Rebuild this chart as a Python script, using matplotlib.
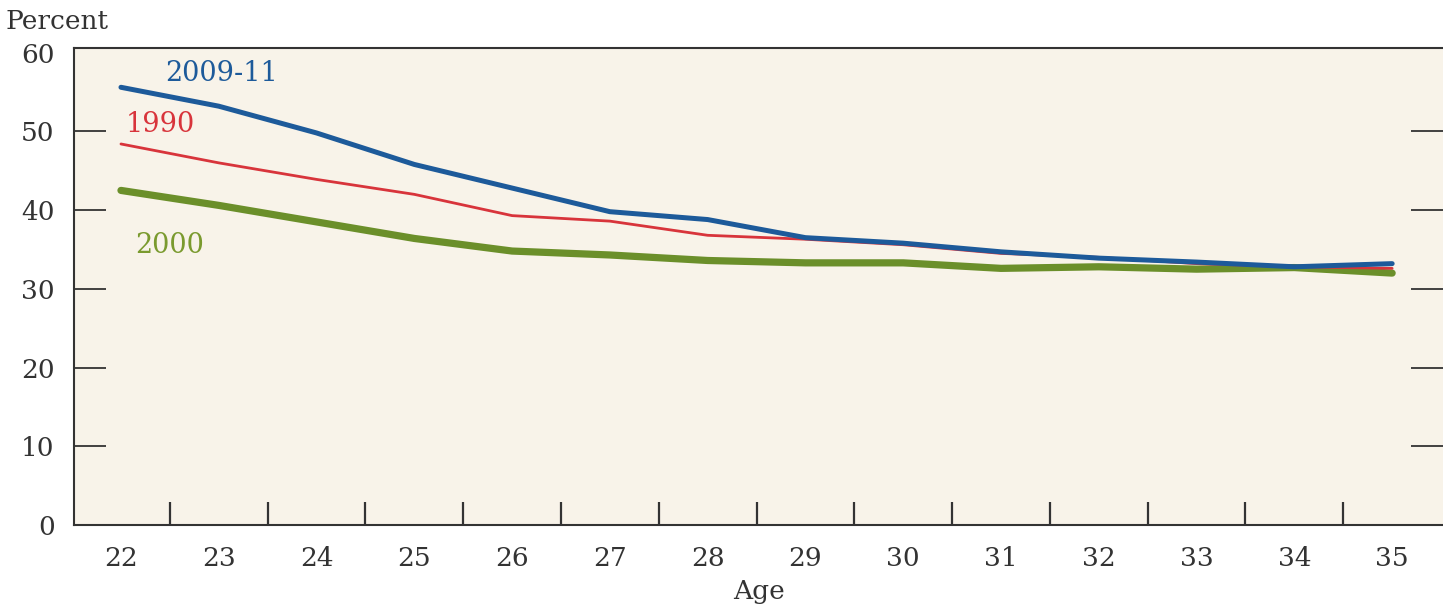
import matplotlib
matplotlib.use("Agg")
import matplotlib.pyplot as plt
from matplotlib.ticker import FixedLocator

# values
ages = [22, 23, 24, 25, 26, 27, 28, 29, 30, 31, 32, 33, 34, 35]
share_2009_11 = [55.6, 53.2, 49.8, 45.8, 42.8, 39.8, 38.8, 36.5, 35.8, 34.7, 33.9, 33.4, 32.8, 33.2]
share_1990 = [48.4, 46.0, 43.9, 42.0, 39.3, 38.6, 36.8, 36.3, 35.6, 34.5, 34.0, 33.2, 32.8, 32.6]
share_2000 = [42.5, 40.6, 38.5, 36.4, 34.8, 34.3, 33.6, 33.3, 33.3, 32.6, 32.8, 32.5, 32.7, 32.0]
y_ticks = [0, 10, 20, 30, 40, 50, 60]

plt.rcParams['font.family'] = ['DejaVu Serif']

fig = plt.figure(figsize=(14.43, 6.16), dpi=100)
ax = fig.add_axes([0.0513, 0.1477, 0.9487, 0.7745])
ax.set_facecolor('#f8f3e9')

ax.plot(ages, share_2000, color='#6b8f2a', lw=5.2, solid_capstyle='round', zorder=2)
ax.plot(ages, share_1990, color='#d8343b', lw=2.0, solid_capstyle='round', zorder=3)
ax.plot(ages, share_2009_11, color='#1d5a9a', lw=3.6, solid_capstyle='round', zorder=4)

ax.text(22.45, 57.3, '2009-11', color='#1d5a9a', fontsize=19.5, va='center', ha='left')
ax.text(22.05, 50.9, '1990', color='#d8343b', fontsize=19.5, va='center', ha='left')
ax.text(22.15, 35.5, '2000', color='#7a9a2e', fontsize=19.5, va='center', ha='left')

ax.set_xlim(21.52, 35.52)
ax.set_ylim(0, 60.6)

# labels sit on whole ages, tick marks sit between them
ax.set_xticks(ages)
ax.set_xticklabels([str(a) for a in ages])
ax.xaxis.set_minor_locator(FixedLocator([a + 0.5 for a in ages[:-1]]))
ax.tick_params(axis='x', which='major', length=0, pad=15, labelsize=19, colors='#333333')
ax.tick_params(axis='x', which='minor', direction='in', length=16.5, width=1.6, color='#333333')

ax.set_yticks(y_ticks)
ax.tick_params(axis='y', which='major', direction='in', length=23, width=1.3, pad=14,
               labelsize=19, colors='#333333', right=True)
for t in (ax.yaxis.get_major_ticks()[0], ax.yaxis.get_major_ticks()[-1]):
    t.tick1line.set_visible(False)
    t.tick2line.set_visible(False)

for side in ['left', 'bottom', 'top']:
    ax.spines[side].set_color('#333333')
    ax.spines[side].set_linewidth(1.5)
ax.spines['right'].set_visible(False)

ax.set_xlabel('Age', fontsize=19, color='#333333', labelpad=6)
fig.text(0.004, 0.965, 'Percent', fontsize=19, color='#333333', ha='left', va='center')

fig.savefig('out.png', dpi=100)
